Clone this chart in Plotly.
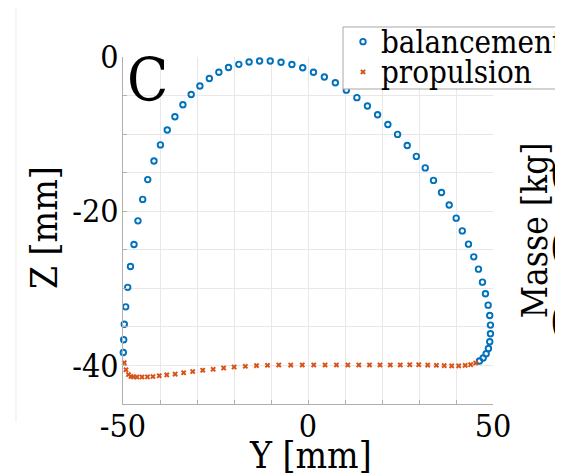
"""Panel C: foot trajectory in the Y-Z plane, balancement vs propulsion."""

import plotly.graph_objects as go

# ---- data (mm) --------------------------------------------------------

balancement_y = [
    -49.92, -49.81, -49.65, -49.27, -48.73, -47.98, -47.03, -45.95, -44.68, -43.31,
    -41.63, -39.88, -38.04, -35.97, -33.81, -31.57, -29.22, -26.66, -24.09, -21.48,
    -18.70, -15.92, -13.09, -10.20, -7.29, -4.35, -1.43, 1.48, 4.42, 7.39,
    10.36, 13.22, 16.06, 18.81, 21.59, 24.21, 26.82, 29.28, 31.68, 33.92,
    36.08, 38.16, 40.05, 41.70, 43.37, 44.80, 46.07, 47.15, 47.96, 48.69,
    49.12, 49.31, 49.31, 49.12, 48.77, 48.15, 47.34, 46.34,
]
balancement_z = [
    -38.32, -36.67, -34.66, -32.40, -29.87, -27.17, -24.32, -21.25, -18.47, -15.90,
    -13.48, -11.40, -9.46, -7.74, -6.19, -4.86, -3.76, -2.79, -1.98, -1.36,
    -0.95, -0.65, -0.52, -0.52, -0.69, -0.97, -1.40, -1.97, -2.59, -3.33,
    -4.30, -5.27, -6.35, -7.49, -8.75, -10.04, -11.47, -12.89, -14.38, -16.00,
    -17.58, -19.20, -20.90, -22.55, -24.27, -25.92, -27.51, -29.20, -30.71, -32.18,
    -33.52, -34.77, -35.89, -36.93, -37.80, -38.49, -39.04, -39.43,
]

propulsion_y = [
    -49.65, -49.19, -48.52, -47.84, -47.17, -46.22, -44.87, -43.39, -41.90, -40.20,
    -38.18, -35.91, -33.62, -31.16, -28.46, -25.63, -22.80, -19.97, -16.94, -13.92,
    -10.95, -7.90, -4.66, -1.55, 1.55, 4.61, 7.69, 10.76, 13.73, 16.62,
    19.46, 22.24, 24.94, 27.50, 29.93, 32.35, 34.70, 36.81, 38.83, 40.72,
    42.48, 43.96, 45.31,
]
propulsion_z = [
    -39.65, -40.56, -41.18, -41.43, -41.49, -41.50, -41.50, -41.49, -41.44, -41.34,
    -41.23, -41.12, -40.95, -40.79, -40.62, -40.50, -40.33, -40.20, -40.11, -40.02,
    -39.98, -39.94, -39.95, -39.94, -39.94, -39.94, -39.94, -39.94, -39.94, -39.94,
    -39.94, -39.94, -39.94, -39.91, -39.91, -39.95, -39.98, -40.02, -40.05, -40.05,
    -39.99, -39.90, -39.69,
]

x_ticks = [-50, -40, -30, -20, -10, 0, 10, 20, 30, 40, 50]
x_labels = ["-50", "", "", "", "", "0", "", "", "", "", "50"]
y_ticks = [-45, -40, -35, -30, -25, -20, -15, -10, -5, 0]
y_labels = ["", "-40", "", "", "", "-20", "", "", "", "0"]

BLUE = "#0072BD"
ORANGE = "#D95319"
FONT = "DejaVu Serif Condensed, DejaVu Serif"
GRID = "#e8e8e8"
AXIS = "#b0b0b0"

# ---- figure -----------------------------------------------------------

fig = go.Figure()
fig.add_trace(go.Scatter(
    x=balancement_y, y=balancement_z, mode="markers", name="balancement",
    marker=dict(symbol="circle-open", size=5.5, color=BLUE, line=dict(width=1.9)),
    cliponaxis=False,
))
fig.add_trace(go.Scatter(
    x=propulsion_y, y=propulsion_z, mode="markers", name="propulsion",
    marker=dict(symbol="x", size=5, color=ORANGE),
    cliponaxis=False,
))

fig.update_xaxes(
    range=[-50, 50], tickvals=x_ticks, ticktext=x_labels,
    showgrid=True, gridcolor=GRID, gridwidth=1,
    showline=True, linecolor=AXIS, linewidth=1,
    ticks="inside", ticklen=4, tickcolor=AXIS, ticklabelstandoff=-6,
    tickfont=dict(family=FONT, size=32, color="black"),
    zeroline=False,
)
fig.update_yaxes(
    range=[-45, 0], tickvals=y_ticks, ticktext=y_labels,
    showgrid=True, gridcolor=GRID, gridwidth=1,
    showline=True, linecolor=AXIS, linewidth=1,
    ticks="inside", ticklen=4, tickcolor=AXIS, ticklabelstandoff=-3,
    tickfont=dict(family=FONT, size=32, color="black"),
    zeroline=False,
)

# white patch hiding the grid in the upper right (cropped neighbour panel)
fig.add_shape(type="rect", xref="paper", yref="paper",
              x0=0.695, x1=1.3, y0=0.873, y1=1.05,
              fillcolor="white", line_width=0, layer="between")
# legend box, running off the right edge like in the cropped original
fig.add_shape(type="rect", xref="paper", yref="paper",
              x0=0.5946, x1=1.4, y0=0.9078, y1=1.0865,
              fillcolor="white", line=dict(color="#a8a8a8", width=1))
# faint frame edge of the neighbouring panel on the left
fig.add_shape(type="line", xref="paper", yref="paper",
              x0=-0.2892, x1=-0.2892, y0=-0.052, y1=1.17,
              line=dict(color="#ececec", width=1))

annotations = [
    dict(text="C", x=0.005, y=1.04, xanchor="left", yanchor="top",
         font=dict(family=FONT, size=60, color="black")),
    dict(text="Z [mm]", x=-0.2135, y=0.507, textangle=-90,
         xanchor="center", yanchor="middle",
         font=dict(family=FONT, size=37, color="black")),
    dict(text="Y [mm]", x=0.508, y=-0.147, xanchor="center", yanchor="middle",
         font=dict(family=FONT, size=37, color="black")),
    dict(text="Masse [kg]", x=1.1135, y=0.501, textangle=-90,
         xanchor="center", yanchor="middle",
         font=dict(family=FONT, size=35, color="black")),
    # legend labels (the plotly legend only supplies the symbols)
    dict(text="balancement", x=0.6919, y=1.0432, xanchor="left", yanchor="middle",
         font=dict(family=FONT, size=31, color="black")),
    dict(text="propulsion", x=0.6919, y=0.9568, xanchor="left", yanchor="middle",
         font=dict(family=FONT, size=31, color="black")),
]
# tick labels of the neighbouring panel, cut by the frame edge
for yy in [0.657, 0.447, 0.233]:
    annotations.append(dict(text="0", x=1.148, y=yy, xanchor="left",
                            yanchor="middle",
                            font=dict(family=FONT, size=46, color="black")))
for a in annotations:
    a.update(xref="paper", yref="paper", showarrow=False)

# the page body adds 8 px on the top and left; the window crops the rest
fig.update_layout(
    width=563, height=468,
    margin=dict(l=115, r=78, t=49, b=72, autoexpand=False),
    plot_bgcolor="white", paper_bgcolor="white",
    annotations=annotations,
    showlegend=True,
    legend=dict(
        x=0.5946, y=1.1023, xanchor="left", yanchor="top",
        bgcolor="rgba(0,0,0,0)", borderwidth=0,
        font=dict(family=FONT, size=21, color="rgba(0,0,0,0)"),
    ),
)

fig.write_html("out.html")
